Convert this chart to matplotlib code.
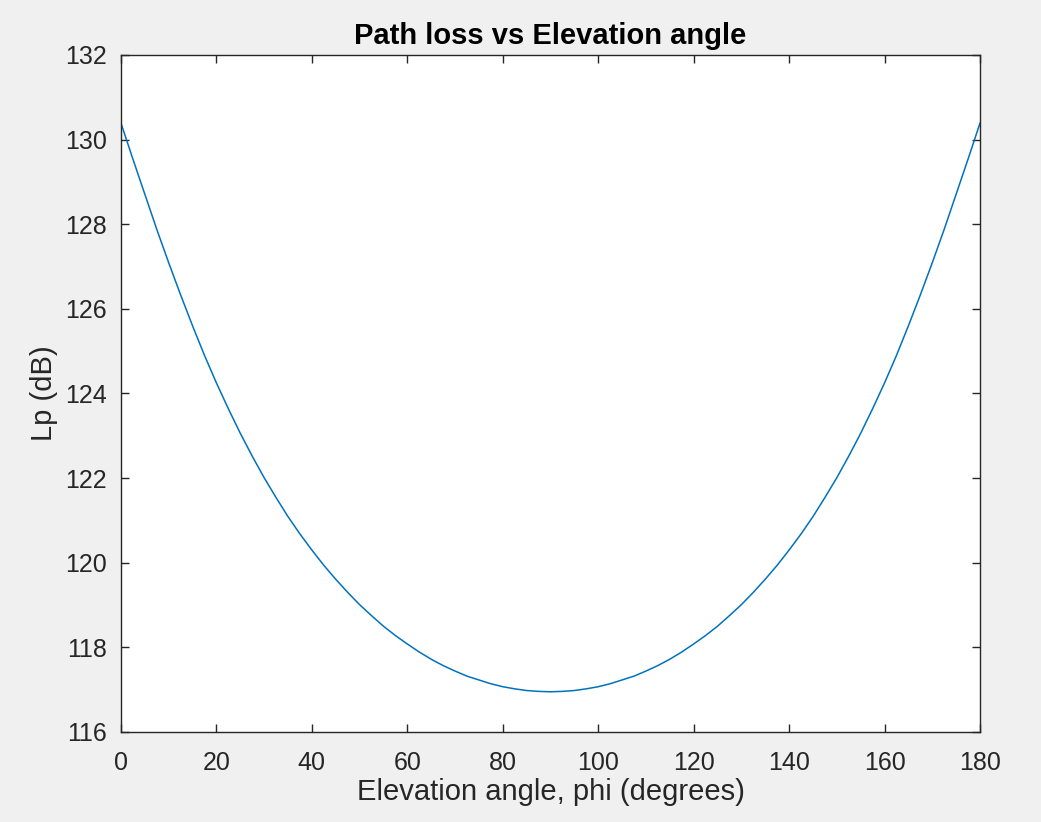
import numpy as np
import matplotlib
matplotlib.use('Agg')
import matplotlib.pyplot as plt

# elevation angle (deg), every 2.5 deg
phi = [0, 2.5, 5, 7.5, 10, 12.5, 15, 17.5, 20, 22.5, 25, 27.5, 30, 32.5, 35, 37.5,
       40, 42.5, 45, 47.5, 50, 52.5, 55, 57.5, 60, 62.5, 65, 67.5, 70, 72.5, 75, 77.5,
       80, 82.5, 85, 87.5, 90, 92.5, 95, 97.5, 100, 102.5, 105, 107.5, 110, 112.5,
       115, 117.5, 120, 122.5, 125, 127.5, 130, 132.5, 135, 137.5, 140, 142.5, 145,
       147.5, 150, 152.5, 155, 157.5, 160, 162.5, 165, 167.5, 170, 172.5, 175, 177.5, 180]
# path loss (dB)
Lp = [130.39, 129.54, 128.71, 127.88, 127.09, 126.33, 125.60, 124.90, 124.25, 123.64,
      123.06, 122.52, 122.01, 121.54, 121.09, 120.68, 120.30, 119.94, 119.61, 119.30,
      119.01, 118.75, 118.50, 118.28, 118.08, 117.89, 117.72, 117.57, 117.44, 117.32,
      117.23, 117.14, 117.07, 117.02, 116.98, 116.96, 116.95, 116.96, 116.98, 117.02,
      117.07, 117.14, 117.23, 117.32, 117.44, 117.57, 117.72, 117.89, 118.08, 118.28,
      118.50, 118.75, 119.01, 119.30, 119.61, 119.94, 120.30, 120.68, 121.09, 121.54,
      122.01, 122.52, 123.06, 123.64, 124.25, 124.90, 125.60, 126.33, 127.09, 127.88,
      128.71, 129.54, 130.39]

xticks = [0, 20, 40, 60, 80, 100, 120, 140, 160, 180]
yticks = [116, 118, 120, 122, 124, 126, 128, 130, 132]

plt.rcParams['font.family'] = ['Liberation Sans', 'DejaVu Sans']
axcol = '#262626'

fig = plt.figure(figsize=(10.41, 8.22), dpi=100, facecolor='#f0f0f0')
ax = fig.add_axes([0.1162, 0.1095, 0.8252, 0.8236])
ax.plot(phi, Lp, color='#0072bd', lw=1.1)

ax.set_xlim(0, 180)
ax.set_ylim(116, 132)
ax.set_xticks(xticks)
ax.set_yticks(yticks)
ax.tick_params(direction='in', length=6, width=1, colors=axcol, labelsize=18,
               top=True, right=True)
ax.tick_params(axis='x', pad=14)
ax.tick_params(axis='y', pad=10)
for s in ax.spines.values():
    s.set_color(axcol)
    s.set_linewidth(1)

ax.set_title('Path loss vs Elevation angle', fontsize=21, fontweight='bold',
             color='black', pad=8)
ax.set_xlabel('Elevation angle, phi (degrees)', fontsize=21, color=axcol, labelpad=2)
ax.set_ylabel('Lp (dB)', fontsize=21, color=axcol, labelpad=5)

fig.savefig('out.png', dpi=100, facecolor=fig.get_facecolor())
